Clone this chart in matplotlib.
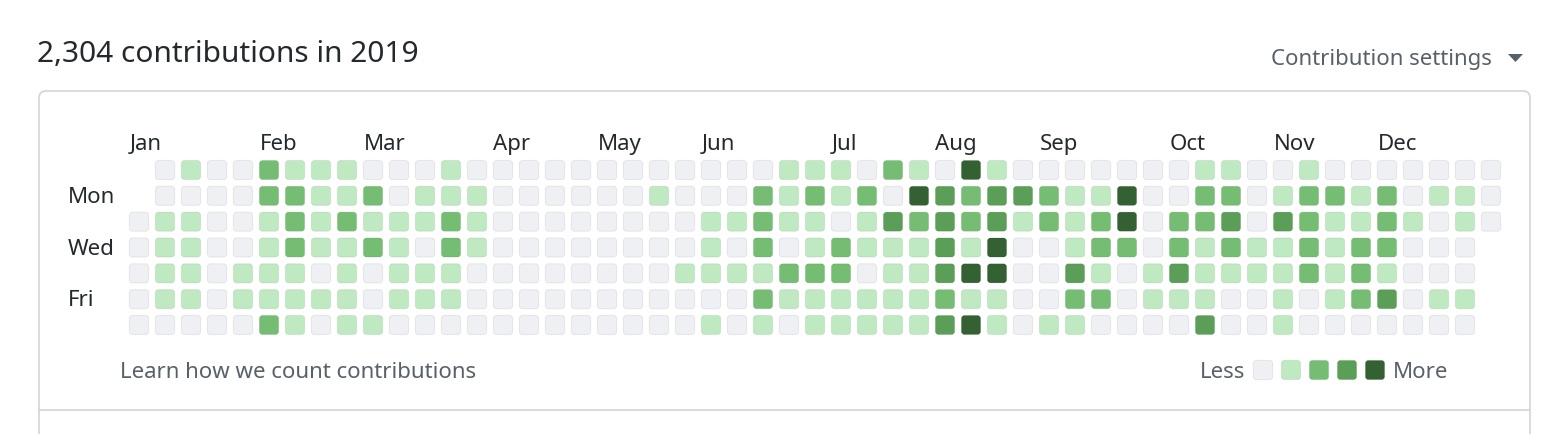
import numpy as np
import matplotlib

matplotlib.use("Agg")
import matplotlib.pyplot as plt
from matplotlib.patches import FancyBboxPatch, Polygon

plt.rcParams["font.family"] = ["Noto Sans", "DejaVu Sans"]

# contribution level (0-4) per weekday row, one entry per week column; None = no day
sun = [None, 0, 1, 0, 0, 2, 1, 1, 1, 0, 0, 0, 1,
       0, 0, 0, 0, 0, 0, 0, 0, 0, 0, 0, 0, 1,
       1, 1, 0, 2, 1, 0, 4, 1, 0, 0, 0, 0, 0,
       0, 0, 1, 1, 0, 0, 1, 0, 0, 0, 0, 0, 0, 0]
mon = [None, 0, 0, 0, 0, 2, 2, 1, 1, 2, 0, 1, 1,
       1, 0, 0, 0, 0, 0, 0, 1, 0, 0, 0, 2, 1,
       2, 1, 2, 0, 4, 3, 2, 3, 3, 2, 1, 1, 4,
       0, 0, 2, 2, 0, 1, 2, 2, 1, 2, 0, 1, 1, 0]
tue = [0, 1, 1, 0, 0, 1, 2, 1, 2, 1, 1, 1, 2,
       1, 0, 0, 0, 0, 0, 0, 0, 0, 1, 1, 2, 1,
       1, 0, 1, 3, 2, 3, 2, 3, 1, 2, 1, 2, 4,
       0, 2, 2, 3, 0, 3, 2, 1, 1, 2, 1, 0, 1, 0]
wed = [0, 1, 1, 0, 0, 1, 2, 1, 1, 2, 1, 0, 2,
       1, 0, 0, 0, 0, 0, 0, 0, 0, 1, 0, 2, 0,
       1, 2, 1, 1, 1, 3, 1, 4, 0, 0, 1, 2, 2,
       0, 2, 1, 2, 1, 1, 2, 1, 2, 2, 0, 0, 0, None]
thu = [0, 1, 1, 0, 1, 1, 1, 0, 1, 0, 1, 1, 1,
       0, 0, 0, 0, 0, 0, 0, 0, 1, 1, 1, 1, 2,
       2, 2, 0, 1, 1, 3, 4, 4, 0, 0, 3, 1, 0,
       1, 3, 1, 1, 1, 1, 2, 1, 2, 1, 0, 0, 0, None]
fri = [0, 1, 1, 0, 1, 1, 1, 1, 1, 0, 1, 1, 1,
       0, 0, 0, 0, 0, 0, 0, 0, 0, 0, 0, 2, 1,
       1, 1, 1, 1, 1, 2, 1, 1, 0, 0, 2, 2, 0,
       1, 1, 1, 0, 0, 1, 0, 1, 2, 3, 0, 1, 1, None]
sat = [0, 0, 0, 0, 0, 2, 1, 0, 1, 1, 0, 0, 0,
       0, 0, 0, 0, 0, 0, 0, 0, 0, 1, 0, 1, 0,
       1, 1, 1, 1, 1, 3, 4, 1, 0, 1, 1, 0, 0,
       0, 0, 3, 0, 0, 1, 0, 0, 0, 0, 0, 0, 0, None]
week_rows = [sun, mon, tue, wed, thu, fri, sat]

months = ["Jan", "Feb", "Mar", "Apr", "May", "Jun",
          "Jul", "Aug", "Sep", "Oct", "Nov", "Dec"]
month_week = [0, 5, 9, 14, 18, 22, 27, 31, 35, 40, 44, 48]
day_labels = {1: "Mon", 3: "Wed", 5: "Fri"}

total = "2,304"
year = 2019

LEVEL_COLORS = ["#eff0f4", "#bfe9c0", "#75bd72", "#5a9e57", "#336131"]
TEXT = "#24292e"
MUTED = "#586069"
BORDER = "#d1d5da"
FS = 16

W, H = 1554, 434
fig = plt.figure(figsize=(W / 100, H / 100), dpi=100)

# overlay axes in pixel units for the frame and loose text
ax = fig.add_axes([0, 0, 1, 1])
ax.set_xlim(0, W)
ax.set_ylim(H, 0)
ax.axis("off")

box = FancyBboxPatch((39, 91), 1491, 400, boxstyle="round,pad=0,rounding_size=7",
                     facecolor="white", edgecolor=BORDER, linewidth=1.2)
ax.add_patch(box)
ax.plot([39, 1530], [410, 410], color=BORDER, linewidth=1.2)

ax.text(37, 54, "{} contributions in {}".format(total, year), fontsize=21.5,
        color=TEXT, va="center", ha="left")
ax.text(1492, 60, "Contribution settings", fontsize=FS, color=MUTED,
        va="center", ha="right")
# dropdown caret
ax.add_patch(Polygon([[1508, 54], [1523, 54], [1515.5, 62]], closed=True,
                     facecolor=MUTED, edgecolor="none"))
ax.text(120, 372, "Learn how we count contributions", fontsize=FS, color=MUTED,
        va="center", ha="left")

# legend
ax.text(1245, 372, "Less", fontsize=FS, color=MUTED, va="center", ha="right")
for i, c in enumerate(LEVEL_COLORS):
    cx = 1263 + 28 * i
    ax.add_patch(FancyBboxPatch((cx - 9.6, 370 - 9.6), 19.2, 19.2,
                                boxstyle="round,pad=0,rounding_size=3",
                                facecolor=c, edgecolor=(0.106, 0.122, 0.137, 0.07),
                                linewidth=0.8))
ax.text(1393, 372, "More", fontsize=FS, color=MUTED, va="center", ha="left")

# grid axes: x in weeks, y in weekdays
n_weeks = len(sun)
gx0, gx1 = 126, 1504
gy0, gy1 = 157.1, 337.9
gax = fig.add_axes([gx0 / W, (H - gy1) / H, (gx1 - gx0) / W, (gy1 - gy0) / H])
gax.set_xlim(-0.5, n_weeks - 0.5)
gax.set_ylim(6.5, -0.5)
gax.axis("off")
gax.patch.set_alpha(0)

cs = 0.74
for d, row in enumerate(week_rows):
    for w, lvl in enumerate(row):
        if lvl is None:
            continue
        gax.add_patch(FancyBboxPatch((w - cs / 2, d - cs / 2), cs, cs,
                                     boxstyle="round,pad=0,rounding_size=0.12",
                                     facecolor=LEVEL_COLORS[lvl],
                                     edgecolor=(0.106, 0.122, 0.137, 0.07),
                                     linewidth=0.8))

for m, w in zip(months, month_week):
    gax.text(w - cs / 2, -1.0, m, fontsize=FS, color=TEXT, ha="left",
             va="center", clip_on=False)
for d, lab in day_labels.items():
    gax.text(-2.73, d + 0.07, lab, fontsize=FS, color=TEXT, ha="left", va="center",
             clip_on=False)

fig.savefig("out.png", dpi=100)
